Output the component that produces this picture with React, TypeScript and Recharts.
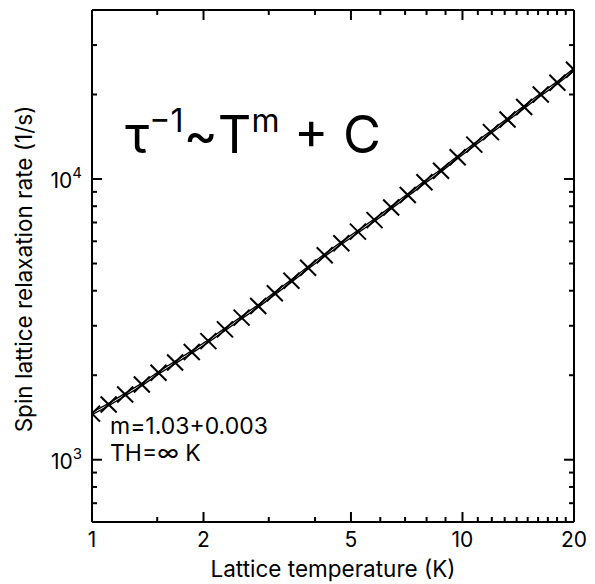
import React from 'react';
import { ComposedChart, Line, Scatter, XAxis, YAxis } from 'recharts';

// lattice temperature (K) and measured relaxation rate (1/s)
const TEMPS = [
  1.0, 1.109, 1.229, 1.363, 1.512, 1.676, 1.859, 2.061, 2.285, 2.534, 2.81, 3.115, 3.454, 3.83, 4.247,
  4.709, 5.222, 5.79, 6.42, 7.119, 7.893, 8.753, 9.705, 10.761, 11.932, 13.231, 14.671, 16.267, 18.038, 20.0,
];
const RATES = [
  1460, 1572, 1707, 1853, 2040, 2220, 2420, 2645, 2913, 3207, 3528, 3916, 4340, 4830, 5352, 5907, 6494,
  7138, 7912, 8768, 9732, 10706, 11955, 13262, 14685, 16285, 18040, 20000, 22030, 24510,
];

const X_MAJOR = [1, 2, 5, 10, 20];
const X_MINOR = [1.5, 3, 4, 6, 7, 8, 9, 11, 12, 13, 14, 15, 16, 17, 18, 19];
const Y_MAJOR = [1000, 10000];
const Y_MINOR = [700, 800, 900, 2000, 3000, 4000, 5000, 6000, 7000, 8000, 9000, 20000, 30000];
const Y_EXP: Record<number, string> = { 1000: '3', 10000: '4' };

const data = TEMPS.map((t, i) => ({ t, rate: RATES[i] }));

const FONT = 'Inter, "Noto Sans", sans-serif';
const W = 595;
const H = 584;

function XTick(props: any) {
  const { x, y, payload, side } = props;
  const v = payload.value;
  const major = X_MAJOR.includes(v);
  const len = major ? 10 : 5;
  const dir = side === 'bottom' ? -1 : 1;
  return (
    <g>
      <line x1={x} x2={x} y1={y} y2={y + dir * len} stroke="#000" strokeWidth={2} />
      {side === 'bottom' && major && (
        <text x={x} y={y + 25} textAnchor="middle" fontSize={21} fontFamily={FONT} fill="#000">
          {v}
        </text>
      )}
    </g>
  );
}

function YTick(props: any) {
  const { x, y, payload, side } = props;
  const v = payload.value;
  const major = Y_MAJOR.includes(v);
  const len = major ? 10 : 5;
  const dir = side === 'left' ? 1 : -1;
  return (
    <g>
      <line x1={x} x2={x + dir * len} y1={y} y2={y} stroke="#000" strokeWidth={2} />
      {side === 'left' && major && (
        <text x={x - 10} y={y + 9} textAnchor="end" fontSize={21} fontFamily={FONT} fill="#000">
          10
          <tspan dy={-10} fontSize={15}>
            {Y_EXP[v]}
          </tspan>
        </text>
      )}
    </g>
  );
}

function XMark(props: any) {
  const { cx, cy } = props;
  const s = 8;
  return (
    <g>
      <line x1={cx - s} y1={cy - s} x2={cx + s} y2={cy + s} stroke="#000" strokeWidth={2} />
      <line x1={cx - s} y1={cy + s} x2={cx + s} y2={cy - s} stroke="#000" strokeWidth={2} />
    </g>
  );
}

export default function App() {
  const xTicks = [...X_MAJOR, ...X_MINOR].sort((a, b) => a - b);
  const yTicks = [...Y_MAJOR, ...Y_MINOR].sort((a, b) => a - b);
  const axisLine = { stroke: '#000', strokeWidth: 2 };

  return (
    <div style={{ position: 'absolute', left: 0, top: 0, width: W, height: H, background: '#fff' }}>
      <ComposedChart width={W} height={H} data={data} margin={{ top: 0, right: 0, bottom: 0, left: 0 }}>
        <XAxis
          dataKey="t"
          type="number"
          scale="log"
          domain={[1, 20]}
          allowDataOverflow
          ticks={xTicks}
          interval={0}
          height={62}
          tickSize={0}
          tickMargin={0}
          axisLine={axisLine}
          tickLine={false}
          tick={(p: any) => <XTick {...p} side="bottom" />}
        />
        <XAxis
          xAxisId="top"
          orientation="top"
          dataKey="t"
          type="number"
          scale="log"
          domain={[1, 20]}
          allowDataOverflow
          ticks={xTicks}
          interval={0}
          height={10}
          tickSize={0}
          tickMargin={0}
          axisLine={axisLine}
          tickLine={false}
          tick={(p: any) => <XTick {...p} side="top" />}
        />
        <YAxis
          type="number"
          scale="log"
          domain={[600, 40000]}
          allowDataOverflow
          ticks={yTicks}
          interval={0}
          width={92}
          tickSize={0}
          tickMargin={0}
          axisLine={axisLine}
          tickLine={false}
          tick={(p: any) => <YTick {...p} side="left" />}
        />
        <YAxis
          yAxisId="right"
          orientation="right"
          type="number"
          scale="log"
          domain={[600, 40000]}
          allowDataOverflow
          ticks={yTicks}
          interval={0}
          width={21}
          tickSize={0}
          tickMargin={0}
          axisLine={axisLine}
          tickLine={false}
          tick={(p: any) => <YTick {...p} side="right" />}
        />
        <Line dataKey="rate" stroke="#000" strokeWidth={3.4} dot={false} isAnimationActive={false} />
        <Line dataKey="rate" stroke="#e6e6e6" strokeWidth={1} dot={false} isAnimationActive={false} />
        <Scatter dataKey="rate" shape={<XMark />} isAnimationActive={false} />
      </ComposedChart>
      <svg
        width={W}
        height={H}
        style={{ position: 'absolute', left: 0, top: 0, pointerEvents: 'none' }}
        fontFamily={FONT}
        fill="#000"
      >
        <text x={333} y={577} textAnchor="middle" fontSize={22.5}>
          Lattice temperature (K)
        </text>
        <text transform="translate(32,269) rotate(-90)" textAnchor="middle" fontSize={22.5}>
          Spin lattice relaxation rate (1/s)
        </text>
        <text x={125} y={153} fontSize={52}>
          τ
          <tspan dy={-21} fontSize={32}>
            −1
          </tspan>
          <tspan dy={21} fontSize={52}>
            ~T
          </tspan>
          <tspan dy={-21} fontSize={32}>
            m
          </tspan>
          <tspan dy={21} fontSize={52}>
            {' + C'}
          </tspan>
        </text>
        <text x={110} y={434} fontSize={23}>
          m=1.03+0.003
        </text>
        <text x={110} y={461} fontSize={23}>
          TH=∞ K
        </text>
      </svg>
    </div>
  );
}
